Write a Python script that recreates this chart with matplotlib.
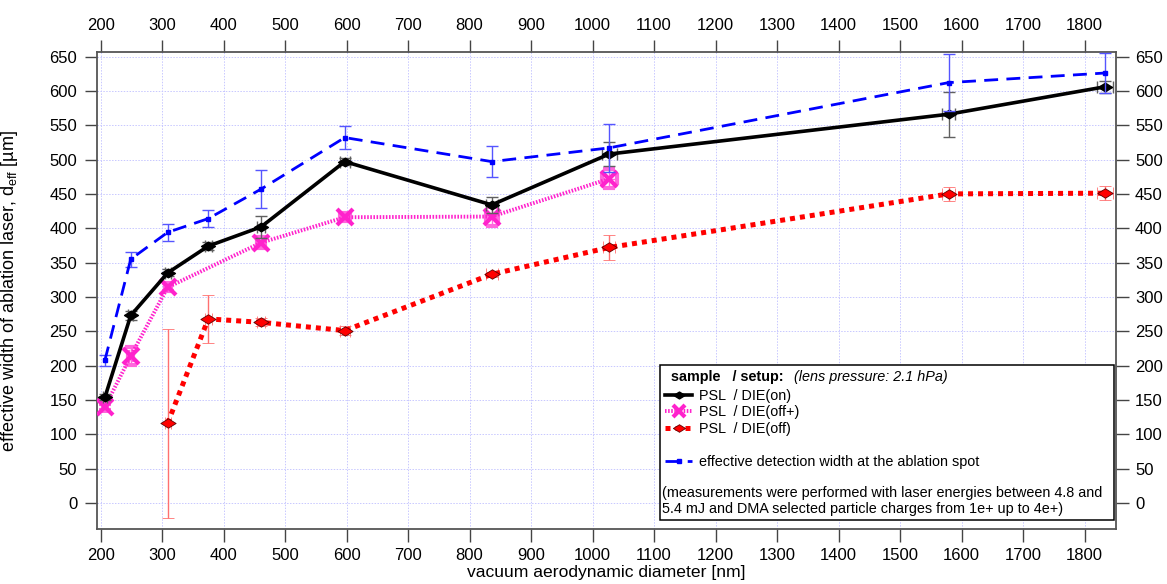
import matplotlib
matplotlib.use("Agg")
from matplotlib import pyplot as plt
from matplotlib.lines import Line2D
from matplotlib.patches import Rectangle
from matplotlib.path import Path

plt.rcParams['font.family'] = ['Liberation Sans', 'DejaVu Sans']

# PSL / DIE(on)
x_on = [207, 249, 309, 375, 461, 597, 836, 1027, 1579, 1834]
y_on = [154, 273, 335, 374, 402, 497, 434, 508, 566, 606]
yerr_on = [4, 7, 5, 6, 16, 5, 12, 18, 33, 9]
xerr_on = [3, 4, 5, 6, 7, 8, 10, 12, 11, 13]

# PSL / DIE(off+)
x_offp = [207, 249, 309, 461, 597, 836, 1027]
y_offp = [140, 214, 314, 379, 416, 417, 472]
yerr_offp = [4, 13, 6, 8, 6, 14, 14]
xerr_offp = [3, 4, 5, 7, 8, 10, 12]

# PSL / DIE(off)
x_off = [309, 375, 461, 597, 836, 1027, 1579, 1834]
y_off = [116, 268, 263, 251, 333, 372, 450, 451]
yerr_off = [138, 35, 6, 7, 4, 18, 10, 10]
xerr_off = [5, 6, 7, 8, 10, 10, 11, 13]

# effective detection width at the ablation spot
x_det = [207, 249, 309, 375, 461, 597, 836, 1027, 1579, 1834]
y_det = [208, 355, 394, 414, 457, 532, 497, 517, 612, 626]
yerr_det = [8, 11, 12, 12, 28, 17, 22, 35, 41, 29]

xticks = list(range(200, 1801, 100))
yticks = list(range(0, 651, 50))

# flattened diamond marker
diamond = Path([(-1, 0), (0, 0.62), (1, 0), (0, -0.62), (-1, 0)],
               [Path.MOVETO, Path.LINETO, Path.LINETO, Path.LINETO, Path.CLOSEPOLY])

fig = plt.figure(figsize=(11.67, 5.84), dpi=100)
ax = fig.add_axes([0.0829, 0.0947, 0.8731, 0.8156])

ax.grid(True, color='#c8c8ff', linestyle=(0, (1.5, 1.5)), linewidth=0.7)
ax.set_axisbelow(True)

e_off = ax.errorbar(x_off, y_off, yerr=yerr_off, xerr=xerr_off, color='#ff0000',
                    linestyle=(0, (1, 1)), linewidth=3.6, marker=diamond, markersize=11,
                    markerfacecolor='#ff0000', markeredgecolor='#600000', markeredgewidth=0.6,
                    ecolor='#ff7070', elinewidth=1, capsize=4.5, capthick=1, zorder=3)
e_offp = ax.errorbar(x_offp, y_offp, yerr=yerr_offp, xerr=xerr_offp, color='#ff22cc',
                     linestyle=(0, (0.4, 0.4)), linewidth=2.8, marker='x', markersize=11,
                     markeredgewidth=3, ecolor='#ff66dd', elinewidth=1, capsize=4.5,
                     capthick=1, zorder=4)
e_on = ax.errorbar(x_on, y_on, yerr=yerr_on, xerr=xerr_on, color='black',
                   linestyle='-', linewidth=2.6, marker=diamond, markersize=10,
                   markerfacecolor='black', markeredgecolor='black',
                   ecolor='#606060', elinewidth=1, capsize=4.5, capthick=1, zorder=5)
e_det = ax.errorbar(x_det, y_det, yerr=yerr_det, color='#0000ff',
                    linestyle=(0, (5, 3)), linewidth=2, marker='s', markersize=3,
                    ecolor='#5555ff', elinewidth=1, capsize=4.5, capthick=1, zorder=6)

ax.set_xlim(193.7, 1850.6)
ax.set_ylim(-37.4, 656)
ax.set_xticks(xticks)
ax.set_yticks(yticks)
ax.tick_params(axis='both', which='both', direction='out', length=9, width=1,
               color='#444444', labelsize=12, pad=5,
               top=True, labeltop=True, right=True, labelright=True)
for s in ax.spines.values():
    s.set_color('#555555')
    s.set_linewidth(1.3)

ax.set_xlabel('vacuum aerodynamic diameter [nm]', fontsize=12.6, labelpad=1)
ax.set_ylabel(r'effective width of ablation laser, d$_{\mathregular{eff}}$ [µm]',
              fontsize=13)
ax.yaxis.set_label_coords(-0.0753, 0.5)

# legend box
box = Rectangle((0.553, 0.018), 0.445, 0.326, transform=ax.transAxes,
                facecolor='white', edgecolor='black', linewidth=1.1, zorder=10)
ax.add_patch(box)
ax.text(0.5633, 0.3185, 'sample   / setup:', transform=ax.transAxes, fontsize=10.4,
        fontweight='bold', va='center', ha='left', zorder=11)
ax.text(0.6843, 0.3185, '(lens pressure: 2.1 hPa)', transform=ax.transAxes, fontsize=10.4,
        style='italic', va='center', ha='left', zorder=11)

blank = Line2D([], [], linestyle='none')
handles = [e_on[0], e_offp[0], e_off[0], blank, e_det[0]]
labels = ['PSL  / DIE(on)', 'PSL  / DIE(off+)', 'PSL  / DIE(off)', '',
          'effective detection width at the ablation spot']
leg = ax.legend(handles, labels, loc='upper left', bbox_to_anchor=(0.5577, 0.2935),
                frameon=False, fontsize=10.4, borderpad=0, borderaxespad=0,
                handlelength=1.9, handletextpad=0.45, labelspacing=0.17, markerscale=0.8)
leg.set_zorder(12)

ax.text(0.5548, 0.0582,
        '(measurements were performed with laser energies between 4.8 and\n'
        '5.4 mJ and DMA selected particle charges from 1e+ up to 4e+)',
        transform=ax.transAxes, fontsize=10.4, va='center', ha='left',
        linespacing=1.12, zorder=11)

fig.savefig('out.png', dpi=100)
